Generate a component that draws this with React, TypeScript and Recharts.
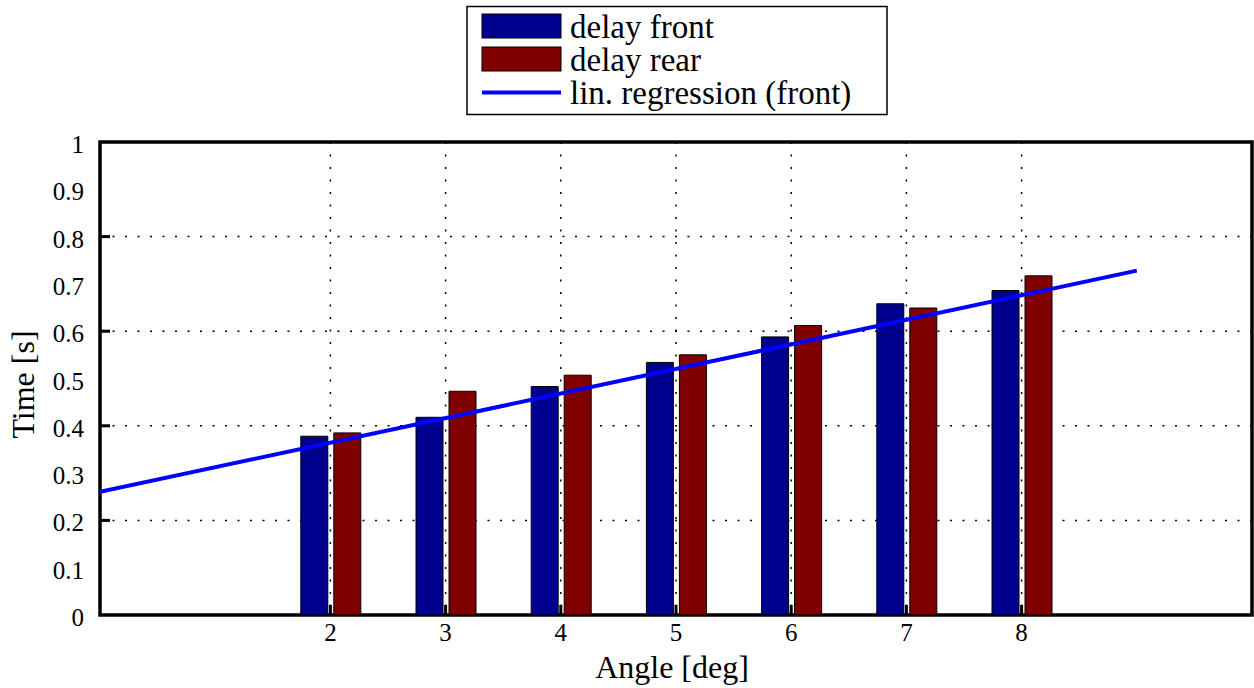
import React from "react";
import {
  ComposedChart,
  Bar,
  Line,
  XAxis,
  YAxis,
  CartesianGrid,
  ReferenceArea,
} from "recharts";

const FONT = '"Liberation Serif", "Times New Roman", serif';

// ---- data ----
const angles = [2, 3, 4, 5, 6, 7, 8];
const delayFront = [0.378, 0.418, 0.483, 0.534, 0.588, 0.658, 0.686];
const delayRear = [0.385, 0.473, 0.507, 0.55, 0.612, 0.649, 0.717];
const regressionX = [0, 9];
const regressionY = [0.2605, 0.728];

const xTicks = [2, 3, 4, 5, 6, 7, 8];
const yTicks = [0, 0.1, 0.2, 0.3, 0.4, 0.5, 0.6, 0.7, 0.8, 0.9, 1];
const yTickLabels = ["0", "0.1", "0.2", "0.3", "0.4", "0.5", "0.6", "0.7", "0.8", "0.9", "1"];
const majorY = [0.2, 0.4, 0.6, 0.8];

const seriesNames = ["delay front", "delay rear", "lin. regression (front)"];
const seriesColors = ["#00008F", "#800000", "#0000FF"];

const data = [
  ...regressionX.map((x, i) => ({ x, reg: regressionY[i] } as any)),
  ...angles.map((a, i) => ({ x: a, front: delayFront[i], rear: delayRear[i] } as any)),
].sort((a, b) => a.x - b.x);

const isMajor = (v: number) => majorY.some((m) => Math.abs(m - v) < 1e-9);

const LeftTick = (props: any) => {
  const { x, y, payload } = props;
  const v = payload.value;
  const idx = yTicks.findIndex((t) => Math.abs(t - v) < 1e-9);
  return (
    <g>
      {isMajor(v) && (
        <line x1={x} x2={x + 10} y1={y} y2={y} stroke="#000" strokeWidth={3} />
      )}
      <text
        x={x - 16}
        y={y}
        dy={2.5}
        textAnchor="end"
        dominantBaseline="central"
        fontSize={25}
        fontFamily={FONT}
        fill="#000"
      >
        {idx >= 0 ? yTickLabels[idx] : String(v)}
      </text>
    </g>
  );
};

const RightTick = (props: any) => {
  const { x, y, payload } = props;
  if (!isMajor(payload.value)) return <g />;
  return <line x1={x - 10} x2={x} y1={y} y2={y} stroke="#000" strokeWidth={3} />;
};

const BottomTick = (props: any) => {
  const { x, y, payload } = props;
  return (
    <g>
      <line x1={x} x2={x} y1={y - 10} y2={y} stroke="#000" strokeWidth={3} />
      <text
        x={x}
        y={y + 17}
        textAnchor="middle"
        dominantBaseline="central"
        fontSize={25}
        fontFamily={FONT}
        fill="#000"
      >
        {String(payload.value)}
      </text>
    </g>
  );
};

const TopTick = (props: any) => {
  const { x, y } = props;
  return <line x1={x} x2={x} y1={y} y2={y + 10} stroke="#000" strokeWidth={3} />;
};

const XTitle = (props: any) => {
  const vb = props.viewBox || {};
  return (
    <text
      x={vb.x + vb.width / 2 - 4}
      y={vb.y + 63}
      textAnchor="middle"
      fontSize={32}
      fontFamily={FONT}
      fill="#000"
    >
      Angle [deg]
    </text>
  );
};

const YTitle = (props: any) => {
  const vb = props.viewBox || {};
  const cx = 34;
  const cy = vb.y + vb.height / 2 + 6;
  return (
    <text
      x={cx}
      y={cy}
      transform={`rotate(-90 ${cx} ${cy})`}
      textAnchor="middle"
      fontSize={32}
      fontFamily={FONT}
      fill="#000"
    >
      Time [s]
    </text>
  );
};

const LegendBox = () => (
  <svg
    width={1254}
    height={130}
    style={{ position: "absolute", left: 0, top: 0, pointerEvents: "none" }}
  >
    <rect x={467} y={6.5} width={420} height={108} fill="#fff" stroke="#000" strokeWidth={1.5} />
    <rect x={482} y={14} width={79} height={24} fill={seriesColors[0]} stroke="#000" strokeWidth={1} />
    <rect x={482} y={47} width={79} height={24} fill={seriesColors[1]} stroke="#000" strokeWidth={1} />
    <line x1={482} x2={561} y1={92.5} y2={92.5} stroke={seriesColors[2]} strokeWidth={4} />
    {seriesNames.map((n, i) => (
      <text
        key={n}
        x={570}
        y={26 + i * 33}
        dy={1}
        dominantBaseline="central"
        fontSize={33}
        fontFamily={FONT}
        fill="#000"
      >
        {n}
      </text>
    ))}
  </svg>
);

export default function App() {
  return (
    <div
      style={{
        position: "absolute",
        left: 0,
        top: 0,
        width: 1254,
        height: 688,
        background: "#fff",
        fontFamily: FONT,
      }}
    >
      <ComposedChart
        width={1254}
        height={688}
        data={data}
        margin={{ top: 142, right: 2, bottom: 13, left: 0 }}
        barGap={6}
      >
        <CartesianGrid
          horizontalValues={majorY}
          verticalValues={xTicks}
          stroke="#000"
          strokeWidth={1.5}
          strokeDasharray="2 10.5"
        />
        <XAxis
          dataKey="x"
          type="number"
          domain={[0, 10]}
          ticks={xTicks}
          allowDataOverflow
          axisLine={false}
          tickLine={false}
          tickSize={0}
          tickMargin={0}
          height={60}
          tick={<BottomTick />}
          interval={0}
          label={<XTitle />}
        />
        <XAxis
          xAxisId="top"
          orientation="top"
          dataKey="x"
          type="number"
          domain={[0, 10]}
          ticks={xTicks}
          allowDataOverflow
          axisLine={false}
          tickLine={false}
          tickSize={0}
          tickMargin={0}
          height={0}
          tick={<TopTick />}
          interval={0}
        />
        <YAxis
          type="number"
          domain={[0, 1]}
          ticks={yTicks}
          allowDataOverflow
          axisLine={false}
          tickLine={false}
          tickSize={0}
          tickMargin={0}
          width={100}
          tick={<LeftTick />}
          interval={0}
          label={<YTitle />}
        />
        <YAxis
          yAxisId="right"
          orientation="right"
          type="number"
          domain={[0, 1]}
          ticks={yTicks}
          allowDataOverflow
          axisLine={false}
          tickLine={false}
          tickSize={0}
          tickMargin={0}
          width={0}
          tick={<RightTick />}
          interval={0}
        />
        <Bar
          dataKey="front"
          name={seriesNames[0]}
          fill={seriesColors[0]}
          stroke="#000"
          strokeWidth={1}
          barSize={27}
          isAnimationActive={false}
        />
        <Bar
          dataKey="rear"
          name={seriesNames[1]}
          fill={seriesColors[1]}
          stroke="#000"
          strokeWidth={1}
          barSize={27}
          isAnimationActive={false}
        />
        <Line
          dataKey="reg"
          name={seriesNames[2]}
          type="linear"
          stroke={seriesColors[2]}
          strokeWidth={4}
          dot={false}
          activeDot={false}
          connectNulls
          isAnimationActive={false}
        />
        <ReferenceArea
          x1={0}
          x2={10}
          y1={0}
          y2={1}
          fill="none"
          fillOpacity={0}
          stroke="#000"
          strokeWidth={3.5}
          ifOverflow="visible"
        />
      </ComposedChart>
      <LegendBox />
    </div>
  );
}
